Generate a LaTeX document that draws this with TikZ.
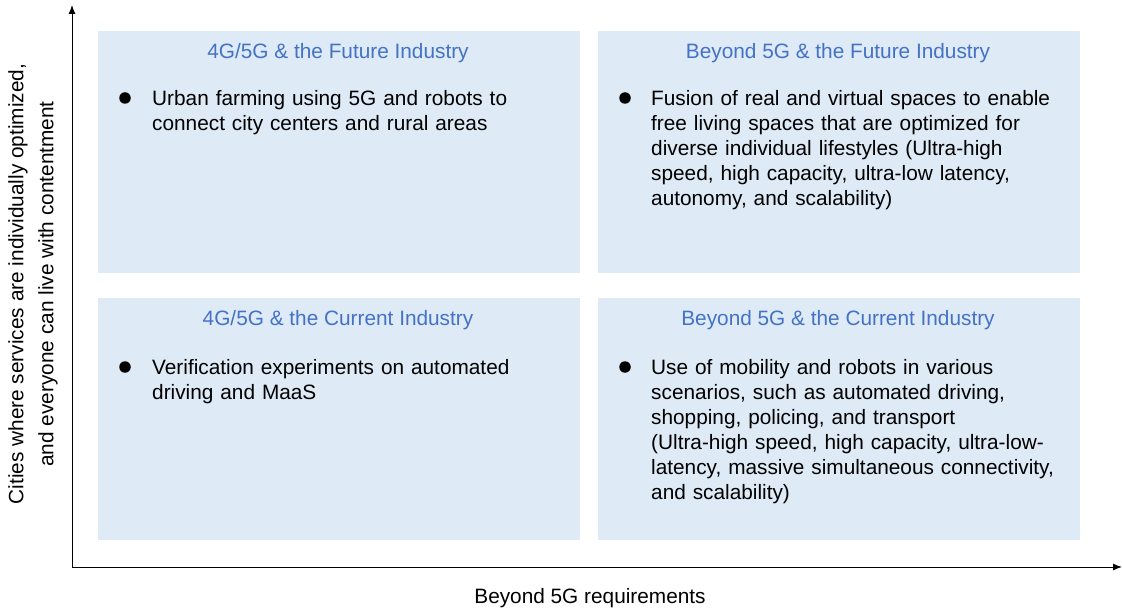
\documentclass[tikz,border=0pt]{standalone}
\usepackage{fontspec}
\setmainfont{Liberation Sans}
\usetikzlibrary{arrows.meta}
\definecolor{boxfill}{RGB}{222,234,246}
\definecolor{titleblue}{RGB}{68,114,196}
\begin{document}
\begin{tikzpicture}[x=1pt,y=-1pt,
  quad/.style={fill=boxfill, draw=none, minimum width=482pt, minimum height=242pt, anchor=north west, inner sep=0pt},
  qtitle/.style={text=titleblue, font=\fontsize{20.8}{25}\selectfont, inner sep=0pt, anchor=base},
  body/.style={font=\fontsize{20.8}{25}\selectfont, text width=425pt, align=left, inner sep=0pt, anchor=base west},
  dot/.style={circle, fill=black, minimum size=11.5pt, inner sep=0pt},
  axis/.style={line width=1pt, -{Latex[length=9pt,width=7pt]}},
  axlabel/.style={font=\fontsize{20.8}{30}\selectfont, align=center, inner sep=0pt}]
\useasboundingbox (0,0) rectangle (1122,612);
% quadrants
\node[quad] (tl) at (98,31) {};
\node[quad] (tr) at (598,31) {};
\node[quad] (bl) at (98,298) {};
\node[quad] (br) at (598,298) {};
% titles
\node[qtitle] (tlt) at (338,59) {4G/5G \& the Future Industry};
\node[qtitle] (trt) at (838,59) {Beyond 5G \& the Future Industry};
\node[qtitle] (blt) at (338,326) {4G/5G \& the Current Industry};
\node[qtitle] (brt) at (838,326) {Beyond 5G \& the Current Industry};
% bullets
\node[dot] (b1) at (125,98) {};
\node[dot] (b2) at (625,98) {};
\node[dot] (b3) at (125,367) {};
\node[dot] (b4) at (625,367) {};
% bodies
\node[body] (t1) at (152,105.5) {Urban farming using 5G and robots to\\connect city centers and rural areas};
\node[body] (t2) at (651,105.5) {Fusion of real and virtual spaces to enable\\free living spaces that are optimized for\\diverse individual lifestyles (Ultra-high\\speed, high capacity, ultra-low latency,\\autonomy, and scalability)};
\node[body] (t3) at (152,374.5) {Verification experiments on automated\\driving and MaaS};
\node[body] (t4) at (651,374.5) {Use of mobility and robots in various\\scenarios, such as automated driving,\\shopping, policing, and transport\\(Ultra-high speed, high capacity, ultra-low-\\latency, massive simultaneous connectivity,\\and scalability)};
% axes
\coordinate (o) at (72,567);
\coordinate (ytop) at (72,5);
\coordinate (xend) at (1122,567);
\draw[axis] (o) -- (ytop);
\draw[axis] (o) -- (xend);
% axis labels
\node[axlabel, rotate=90] (yl) at (33,284) {Cities where services are individually optimized,\\and everyone can live with contentment};
\node[axlabel] (xl) at (590,598) {Beyond 5G requirements};
\end{tikzpicture}
\end{document}
